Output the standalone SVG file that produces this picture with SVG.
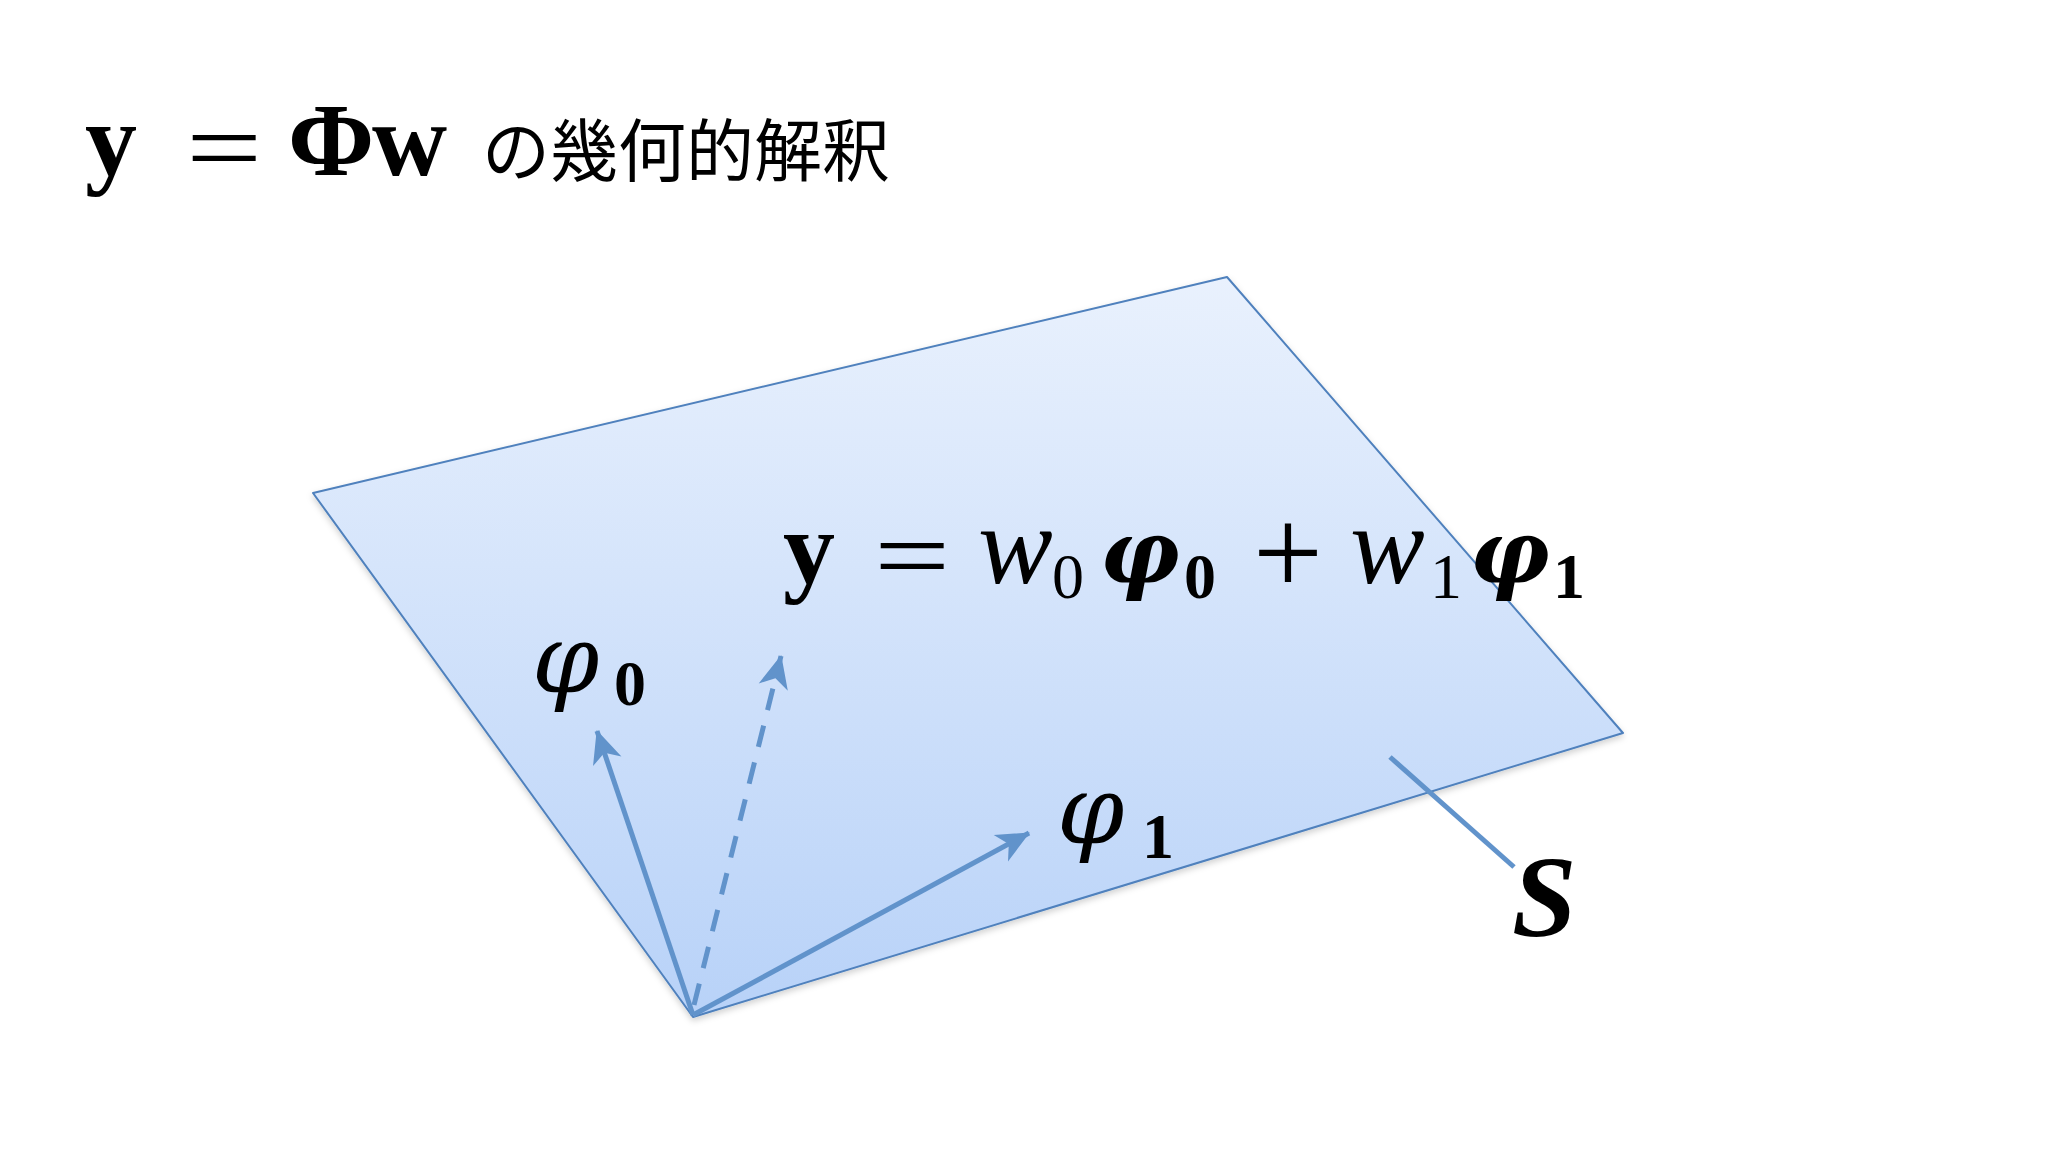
<svg xmlns="http://www.w3.org/2000/svg" width="2048" height="1152" viewBox="0 0 2048 1152">
  <style>
    .m { font-family: "Liberation Serif", "DejaVu Serif", serif; fill: #000; }
    .d { font-family: "DejaVu Serif", "Liberation Serif", serif; fill: #000; }
    .b { font-weight: bold; }
    .i { font-style: italic; }
    .big { font-size: 104px; }
    .w { font-size: 112px; }
    .sub { font-size: 64px; }
    .phi { font-size: 96px; }
    .bphi { font-size: 88px; }
    .jp { font-family: "Noto Sans CJK JP", "Noto Sans", sans-serif; font-size: 68px; fill: #000; }
    .vec { stroke: #6193cb; stroke-width: 5; fill: none; }
  </style>
  <defs>
    <linearGradient id="plane" x1="0" y1="0" x2="0" y2="1" gradientUnits="objectBoundingBox">
      <stop offset="0" stop-color="#e9f1fd"/>
      <stop offset="1" stop-color="#b8d2f8"/>
    </linearGradient>
    <filter id="shadow" x="-10%" y="-10%" width="120%" height="120%">
      <feDropShadow dx="0" dy="3" stdDeviation="3" flood-color="#000" flood-opacity="0.18"/>
    </filter>
    <marker id="head" markerUnits="userSpaceOnUse" viewBox="-36 -17 38 34" markerWidth="38" markerHeight="34" refX="0" refY="0" orient="auto">
      <path d="M1,0 L-32,-15 L-23,0 L-32,15 Z" fill="#6193cb"/>
    </marker>
  </defs>
  <rect width="2048" height="1152" fill="#ffffff"/>

  <g id="title">
    <text class="m b big" x="85" y="175">y</text>
    <text class="m big" transform="translate(186,183) scale(1.3,1)">=</text>
    <text class="m b big" x="288" y="175">Φ</text>
    <text class="m b big" x="372" y="175">w</text>
    <text class="jp" x="482" y="176">の幾何的解釈</text>
  </g>

  <g id="plane-S" filter="url(#shadow)">
    <polygon points="313,493 1227,277 1623,733 693,1017" fill="url(#plane)" stroke="#4f81bd" stroke-width="2" stroke-linejoin="round"/>
  </g>

  <g id="connectors">
    <line class="vec" x1="693" y1="1015" x2="597" y2="731" marker-end="url(#head)"/>
    <line class="vec" x1="694" y1="1005" x2="781" y2="656" stroke-dasharray="22 16" marker-end="url(#head)"/>
    <line class="vec" x1="693" y1="1015" x2="1029" y2="833" marker-end="url(#head)"/>
    <line class="vec" x1="1390" y1="757" x2="1514" y2="867"/>
  </g>

  <g id="equation">
    <text class="m b big" x="783" y="583">y</text>
    <text class="m big" transform="translate(874,591) scale(1.3,1)">=</text>
    <text class="m i w" x="978" y="583">w</text>
    <text class="m sub" x="1052" y="598">0</text>
    <text class="d b i bphi" x="1100" y="583">φ</text>
    <text class="m b sub" x="1184" y="598">0</text>
    <text class="m" style="font-size:124px" x="1253" y="594">+</text>
    <text class="m i w" x="1350" y="583">w</text>
    <text class="m sub" x="1430" y="598">1</text>
    <text class="d b i bphi" x="1470" y="583">φ</text>
    <text class="m b sub" x="1553" y="598">1</text>
  </g>

  <g id="label-phi0">
    <text class="d i phi" x="532" y="692">φ</text>
    <text class="m b sub" x="614" y="705">0</text>
  </g>

  <g id="label-phi1">
    <text class="d i phi" x="1057" y="843">φ</text>
    <text class="m b sub" x="1142" y="858">1</text>
  </g>

  <g id="label-S">
    <text class="m b i" style="font-size:116px" x="1512" y="936">S</text>
  </g>
</svg>
